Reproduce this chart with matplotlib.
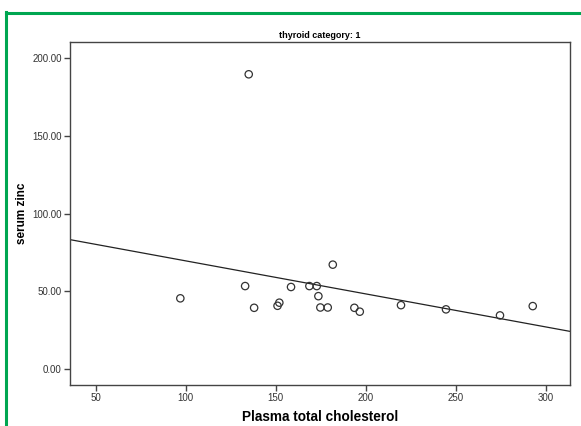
import matplotlib
matplotlib.use("Agg")
import matplotlib.pyplot as plt
from matplotlib.lines import Line2D
import numpy as np

plt.rcParams["font.family"] = ["Liberation Sans", "DejaVu Sans"]

# data
cholesterol = [135, 97, 133, 138, 151, 152, 158.5, 168.7, 172.8, 173.7,
               181.7, 174.8, 178.9, 193.7, 196.7, 219.6, 244.6, 274.6, 292.8]
zinc = [189.7, 45.4, 53.3, 39.3, 40.6, 42.6, 52.7, 53.3, 53.3, 46.8,
        67.1, 39.5, 39.5, 39.3, 36.8, 41.0, 38.3, 34.4, 40.4]

# fitted line (intercept, slope) as shown
fit_intercept = 90.8
fit_slope = -0.2127

x_ticks = [50, 100, 150, 200, 250, 300]
y_ticks = [0, 50, 100, 150, 200]

fig = plt.figure(figsize=(5.81, 4.26), dpi=100)
ax = fig.add_axes([70 / 581, 1 - 384.5 / 426, 500 / 581, 342.5 / 426])

ax.scatter(cholesterol, zinc, s=28, facecolors="none", edgecolors="#333333",
           linewidths=0.9, zorder=3)

xlim = (35.7, 313.5)
xs = np.array(xlim)
ax.plot(xs, fit_intercept + fit_slope * xs, color="#222222", lw=0.9)

ax.set_xlim(*xlim)
ax.set_ylim(-10.1, 210.5)
ax.set_xticks(x_ticks)
ax.set_yticks(y_ticks)
ax.set_yticklabels([f"{v:.2f}" for v in y_ticks])
ax.tick_params(direction="out", length=4, width=1, color="#444444",
               labelsize=7, labelcolor="#333333", pad=2)

for sp in ax.spines.values():
    sp.set_color("#444444")
    sp.set_linewidth(1)

ax.set_title("thyroid category: 1", fontsize=6.5, fontweight="bold", pad=3)
ax.set_xlabel("Plasma total cholesterol", fontsize=9.8, fontweight="bold",
              labelpad=5.5)
ax.set_ylabel("serum zinc", fontsize=8.5, fontweight="bold", labelpad=3)

# green frame around the output
green = "#00a651"
fig.add_artist(Line2D([6 / 581, 6 / 581], [0, 1 - 12 / 426], color=green,
                      lw=2.2, transform=fig.transFigure, solid_capstyle="projecting"))
fig.add_artist(Line2D([6 / 581, 1], [1 - 12.7 / 426, 1 - 12.7 / 426], color=green,
                      lw=2.2, transform=fig.transFigure, solid_capstyle="projecting"))

fig.savefig("out.png", dpi=100)
